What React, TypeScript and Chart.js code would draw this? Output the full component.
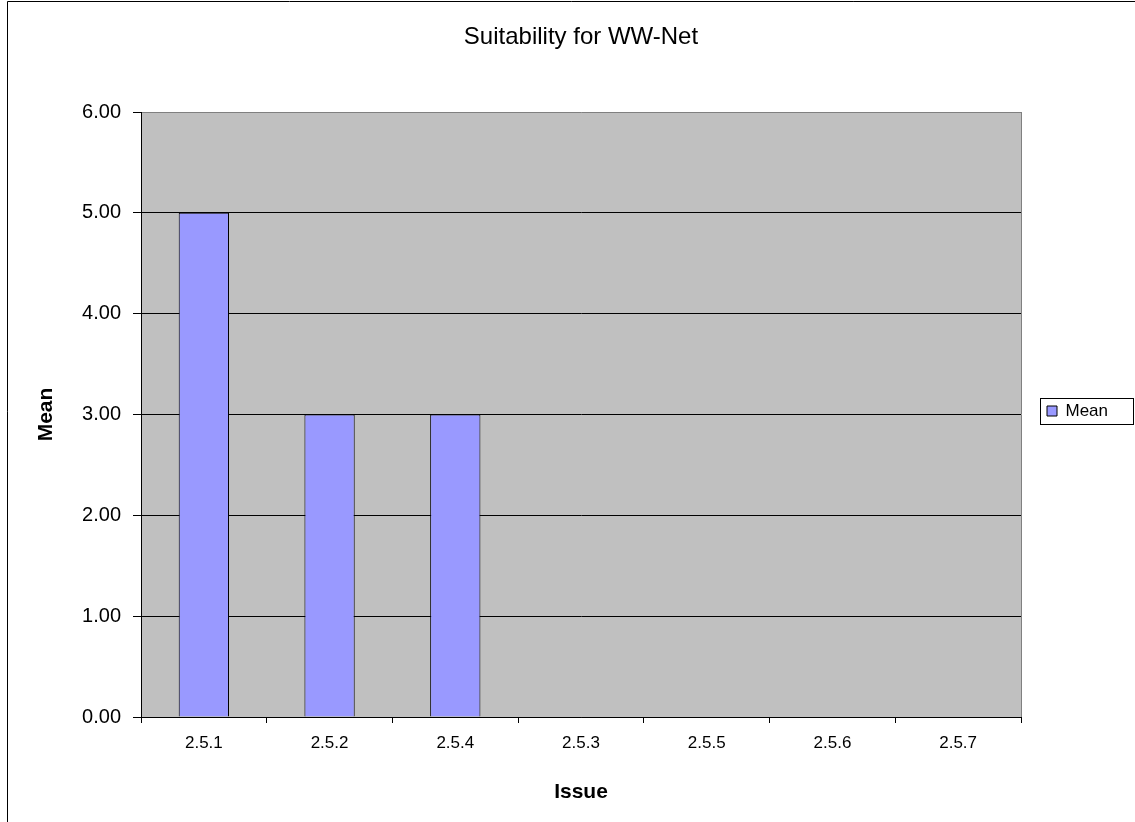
import React, { useEffect, useRef } from 'react';
import { Chart, registerables } from 'chart.js';

Chart.register(...registerables);

const categories = ['2.5.1', '2.5.2', '2.5.4', '2.5.3', '2.5.5', '2.5.6', '2.5.7'];
const meanValues = [5, 3, 3, 0, 0, 0, 0];
const yTickValues = [0, 1, 2, 3, 4, 5, 6];
const seriesLabel = 'Mean';
const chartTitle = 'Suitability for WW-Net';
const xAxisTitle = 'Issue';
const yAxisTitle = 'Mean';

const FONT = '"Liberation Sans", Arial, sans-serif';
const W = 1135;
const H = 822;
const PLOT_LEFT = 141;
const PLOT_RIGHT = 1021;
const PLOT_TOP = 112;
const PLOT_BOTTOM = 717;
const LEGEND_FONT = 17;
const LEGEND_PAD = 26;
const LEGEND_BOX = 10;

const decorPlugin = {
  id: 'decor',
  beforeDraw(chart: any) {
    const { ctx, chartArea } = chart;
    const { left, top, right, bottom } = chartArea;
    ctx.save();
    ctx.fillStyle = '#ffffff';
    ctx.fillRect(0, 0, chart.width, chart.height);
    ctx.fillStyle = '#C0C0C0';
    ctx.fillRect(left, top, right - left, bottom - top);
    ctx.strokeStyle = '#000000';
    ctx.lineWidth = 1;
    ctx.beginPath();
    ctx.moveTo(7.5, chart.height);
    ctx.lineTo(7.5, 1.5);
    ctx.lineTo(chart.width, 1.5);
    ctx.stroke();
    ctx.restore();
  },
  afterDatasetsDraw(chart: any) {
    const { ctx, chartArea } = chart;
    ctx.save();
    ctx.strokeStyle = '#808080';
    ctx.lineWidth = 1;
    ctx.beginPath();
    ctx.moveTo(Math.round(chartArea.right) + 0.5, chartArea.top);
    ctx.lineTo(Math.round(chartArea.right) + 0.5, chartArea.bottom);
    ctx.stroke();
    ctx.restore();
  },
  afterDraw(chart: any) {
    const hb = chart.legend && chart.legend.legendHitBoxes && chart.legend.legendHitBoxes[0];
    if (!hb) return;
    const { ctx } = chart;
    ctx.save();
    ctx.strokeStyle = '#000000';
    ctx.lineWidth = 1;
    ctx.strokeRect(Math.round(hb.left - 7) + 0.5, Math.round(hb.top - 5) + 0.5, 93, Math.round(hb.height + 9));
    ctx.restore();
  },
};

export default function App() {
  const canvasRef = useRef<HTMLCanvasElement | null>(null);

  useEffect(() => {
    document.body.style.margin = '0';
    const canvas = canvasRef.current;
    if (!canvas) return;

    const m = document.createElement('canvas').getContext('2d') as CanvasRenderingContext2D;
    m.font = `${LEGEND_FONT}px ${FONT}`;
    const textW = m.measureText(seriesLabel).width;
    const legendWidth = LEGEND_PAD + LEGEND_BOX + LEGEND_FONT / 2 + textW + 10;
    const rightPad = Math.max(0, W - PLOT_RIGHT - legendWidth);

    Chart.defaults.color = '#000000';
    Chart.defaults.font.family = FONT;

    const chart = new Chart(canvas, {
      type: 'bar',
      data: {
        labels: categories,
        datasets: [
          {
            label: seriesLabel,
            data: meanValues,
            backgroundColor: '#9999FF',
            borderColor: '#000000',
            borderWidth: 1,
            borderSkipped: 'bottom',
            barPercentage: 0.4,
            categoryPercentage: 1.0,
          },
        ],
      },
      plugins: [decorPlugin],
      options: {
        responsive: false,
        animation: false,
        devicePixelRatio: 1,
        layout: { padding: { left: 0, top: 0, right: rightPad, bottom: 0 } },
        plugins: {
          title: {
            display: true,
            text: chartTitle,
            fullSize: false,
            color: '#000000',
            font: { family: FONT, size: 24, weight: 'normal' },
            padding: { top: 22.6, bottom: PLOT_TOP - 22.6 - 28.8 },
          },
          legend: {
            display: true,
            position: 'right',
            align: 'center',
            labels: {
              boxWidth: LEGEND_BOX,
              boxHeight: LEGEND_BOX,
              padding: LEGEND_PAD,
              color: '#000000',
              font: { family: FONT, size: LEGEND_FONT },
            },
          },
          tooltip: { enabled: false },
        },
        scales: {
          x: {
            type: 'category',
            offset: true,
            afterFit: (scale: any) => {
              scale.height = H - PLOT_BOTTOM;
            },
            grid: {
              offset: true,
              drawOnChartArea: false,
              drawTicks: true,
              tickLength: 6,
              tickColor: '#000000',
              color: '#000000',
            },
            border: { display: true, color: '#000000', width: 1 },
            ticks: {
              color: '#000000',
              font: { family: FONT, size: 17 },
              padding: 10,
              maxRotation: 0,
              autoSkip: false,
            },
            title: {
              display: true,
              text: xAxisTitle,
              color: '#000000',
              font: { family: FONT, size: 21, weight: 'bold' },
              padding: { top: 0, bottom: 17.4 },
            },
          },
          y: {
            type: 'linear',
            min: 0,
            max: 6,
            afterFit: (scale: any) => {
              scale.width = PLOT_LEFT;
            },
            afterBuildTicks: (scale: any) => {
              scale.ticks = yTickValues.map((v) => ({ value: v }));
            },
            grid: {
              color: (c: any) => (c.tick && c.tick.value === 6 ? '#808080' : '#000000'),
              tickColor: '#000000',
              tickLength: 8,
              drawTicks: true,
              lineWidth: 1,
            },
            border: { display: true, color: '#000000', width: 1 },
            ticks: {
              color: '#000000',
              font: { family: FONT, size: 20 },
              padding: 12,
              callback: (v: any) => Number(v).toFixed(2),
            },
            title: {
              display: true,
              text: yAxisTitle,
              color: '#000000',
              font: { family: FONT, size: 21, weight: 'bold' },
              padding: { top: 33.4, bottom: 0 },
            },
          },
        },
      },
    });

    return () => {
      chart.destroy();
    };
  }, []);

  return (
    <div style={{ width: W, height: H }}>
      <canvas ref={canvasRef} width={W} height={H} style={{ display: 'block', width: W, height: H }} />
    </div>
  );
}
